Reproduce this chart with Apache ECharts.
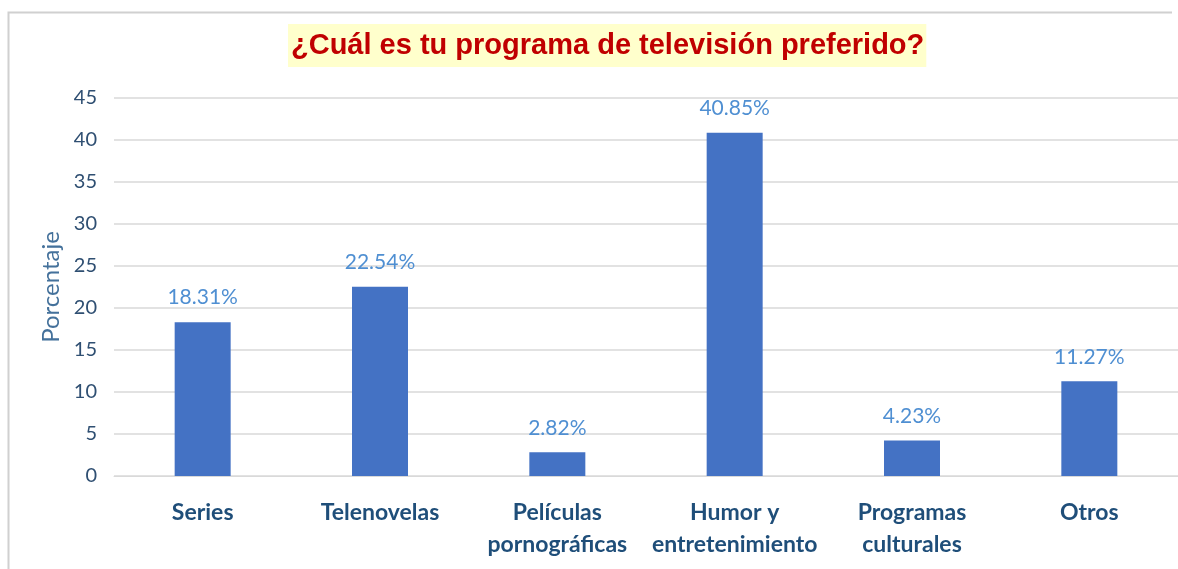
<!DOCTYPE html>
<html>
<head>
<meta charset="utf-8">
<script src="https://cdn.jsdelivr.net/npm/echarts@6/dist/echarts.min.js"></script>
<style>
  html, body { margin: 0; padding: 0; background: #fff; }
  #chart { width: 1178px; height: 569px; }
</style>
</head>
<body>
<div id="chart"></div>
<script>
// datos del gráfico
var categories = ['Series', 'Telenovelas', 'Películas\npornográficas', 'Humor y\nentretenimiento', 'Programas\nculturales', 'Otros'];
var percentages = [18.31, 22.54, 2.82, 40.85, 4.23, 11.27];
var yMin = 0;
var yMax = 45;
var yStep = 5;

var chart = echarts.init(document.getElementById('chart'));

chart.setOption({
    backgroundColor: '#ffffff',
    animation: false,
    // marco gris del gráfico (solo arriba e izquierda se ven)
    graphic: [{
        type: 'polyline',
        shape: { points: [[8.5, 600], [8.5, 12.5], [1172, 12.5]] },
        style: { stroke: '#d0d0d0', lineWidth: 2, fill: null },
        silent: true
    }],
    title: {
        text: '¿Cuál es tu programa de televisión preferido?',
        left: 288,
        top: 24,
        backgroundColor: '#ffffcc',
        padding: [7, 2, 7, 3],
        textStyle: {
            fontFamily: 'Liberation Sans, Arial, sans-serif',
            fontWeight: 'bold',
            fontSize: 29,
            color: '#c00000'
        }
    },
    grid: {
        left: 114,
        right: -5,
        top: 98,
        bottom: 93,
        containLabel: false
    },
    xAxis: {
        type: 'category',
        data: categories,
        axisLine: { show: true, lineStyle: { color: '#d9d9d9', width: 1 } },
        axisTick: { show: false },
        axisLabel: {
            interval: 0,
            margin: 21,
            fontFamily: 'Lato, Open Sans, sans-serif',
            fontWeight: 'bold',
            fontSize: 23,
            lineHeight: 32,
            color: '#1f4e79'
        }
    },
    yAxis: {
        type: 'value',
        min: yMin,
        max: yMax,
        interval: yStep,
        name: 'Porcentaje',
        nameLocation: 'middle',
        nameGap: 47,
        nameRotate: 90,
        nameTextStyle: {
            fontFamily: 'Lato, Open Sans, sans-serif',
            fontSize: 24,
            color: '#44719b'
        },
        axisLine: { show: false },
        axisTick: { show: false },
        axisLabel: {
            margin: 17,
            fontFamily: 'Lato, Open Sans, sans-serif',
            fontSize: 20,
            color: '#2f4f72'
        },
        splitLine: { lineStyle: { color: '#d9d9d9', width: 1.5 } }
    },
    series: [{
        type: 'bar',
        data: percentages,
        barWidth: 56,
        itemStyle: { color: '#4472c4' },
        label: {
            show: true,
            position: 'top',
            distance: 14,
            fontFamily: 'Lato, Open Sans, sans-serif',
            fontSize: 21,
            color: '#4f8fd2',
            formatter: function (p) { return p.value.toFixed(2) + '%'; }
        }
    }]
});
</script>
</body>
</html>
